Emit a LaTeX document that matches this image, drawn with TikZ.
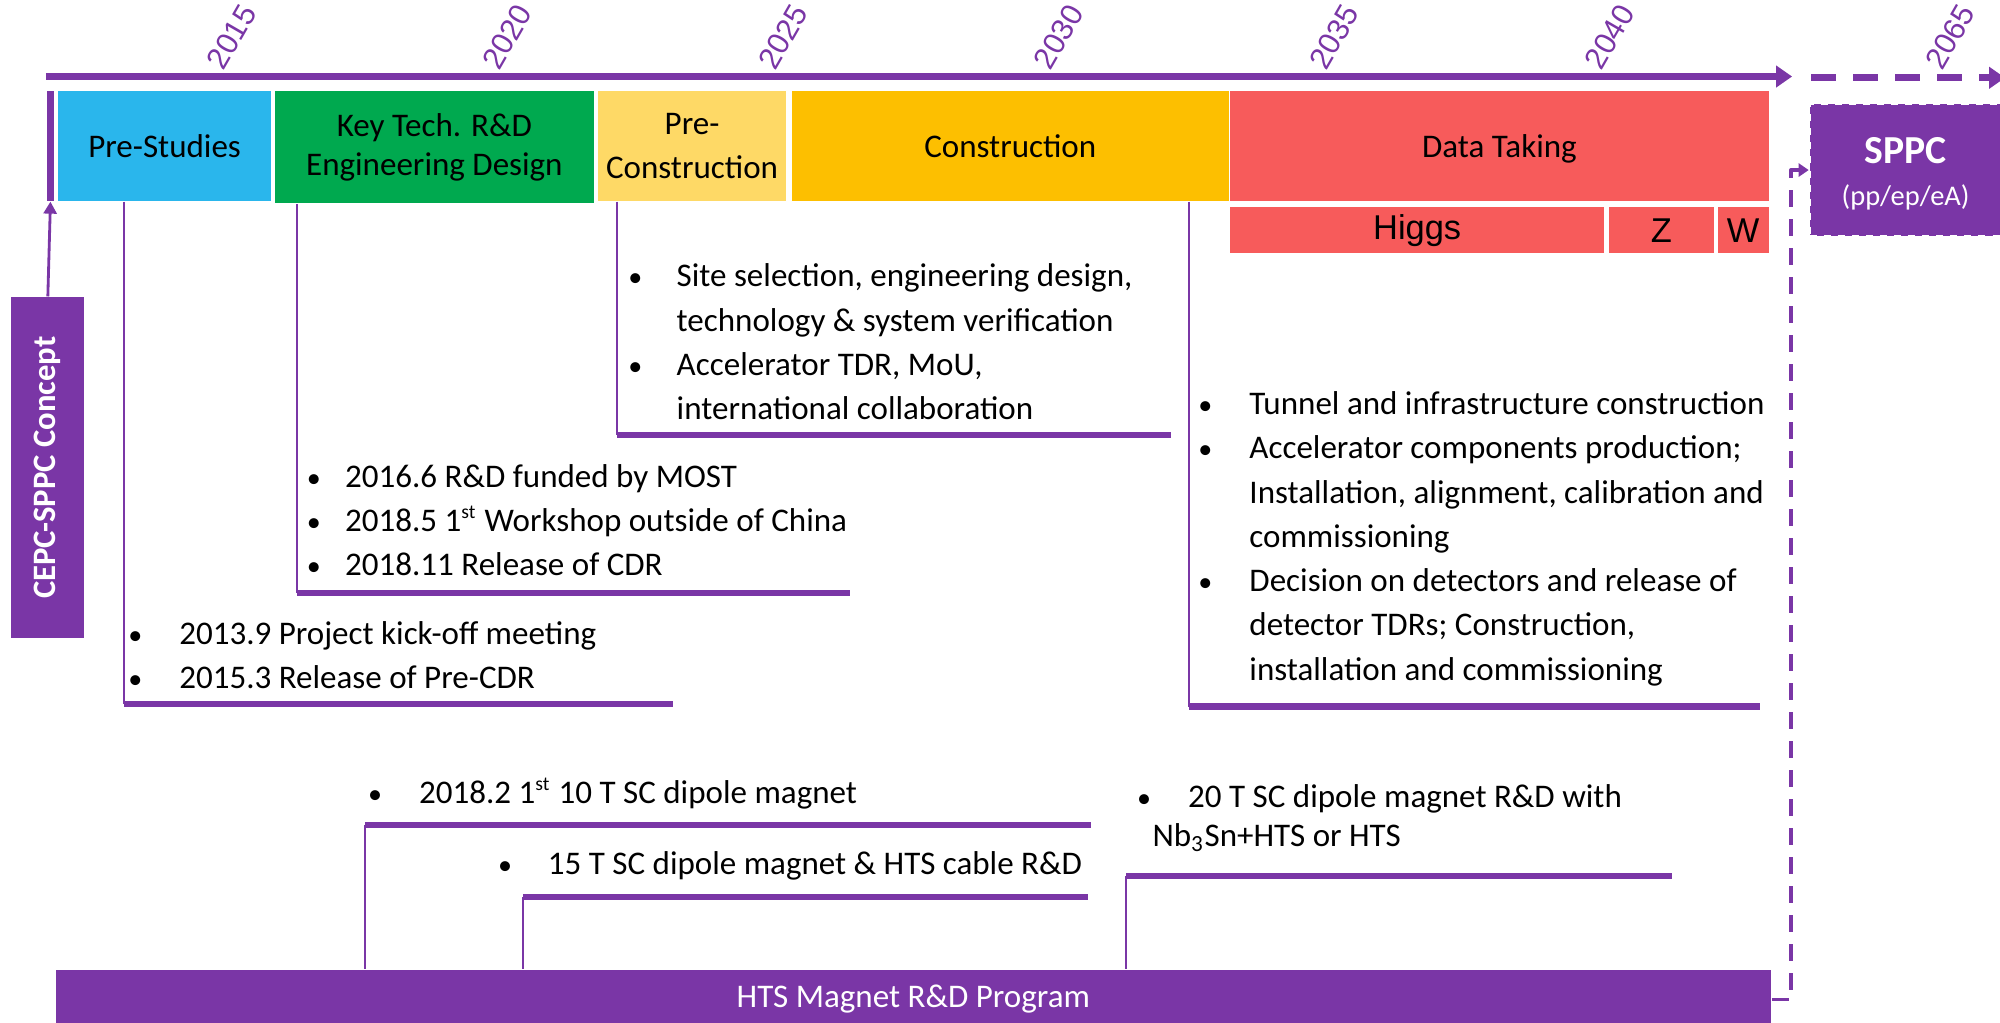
\documentclass[tikz,border=0pt]{standalone}
\usepackage{fontspec}
\setmainfont{Carlito}
\newfontfamily\arialfont{Liberation Sans}
\usetikzlibrary{arrows.meta}
\newlength{\upx}
\setlength{\upx}{0.012755cm}
\newcommand{\itemdot}[1]{\makebox[#1\upx][l]{\scalebox{0.85}{\textbullet}}}
\newcommand{\ordst}{\textsuperscript{\fontsize{5.6}{6}\selectfont st}}
\definecolor{cepcpurple}{HTML}{7A36A6}
\definecolor{studycyan}{HTML}{2AB6EC}
\definecolor{rdgreen}{HTML}{00A94F}
\definecolor{preyellow}{HTML}{FED966}
\definecolor{buildamber}{HTML}{FDBF00}
\definecolor{datared}{HTML}{F75B5B}

\begin{document}
\begin{tikzpicture}[x=0.012755cm, y=-0.012755cm, font=\fontsize{9.4}{12.6}\selectfont, line join=round,
  phase/.style={anchor=north west, inner sep=0pt, minimum height=86\upx, align=center},
  run/.style={anchor=north west, inner sep=0pt, minimum height=36\upx, font=\arialfont\fontsize{9.8}{11}\selectfont},
  year/.style={anchor=south west, inner sep=0pt, rotate=60, text=cepcpurple, font=\arialfont\fontsize{8.7}{10}\selectfont},
  lead/.style={cepcpurple, line width=0.6pt},
  uline/.style={cepcpurple, line width=1.8pt},
  notes/.style={anchor=base west, inner sep=0pt}]

\useasboundingbox (0,0) rectangle (1568,802);

% time axis
\coordinate (ax0) at (36,60);
\coordinate (ax1) at (1405,60);
\coordinate (ax2) at (1420,61);
\coordinate (ax3) at (1572,61);
\draw[cepcpurple, line width=2pt, -{Triangle[length=0.16cm,width=0.21cm]}] (ax0) -- (ax1);
\draw[cepcpurple, line width=2pt, dash pattern=on 0.25cm off 0.17cm, -{Triangle[length=0.16cm,width=0.21cm]}] (ax2) -- (ax3);
\node[year] (y2015) at (176,57) {2015};
\node[year] (y2020) at (392,57) {2020};
\node[year] (y2025) at (608,57) {2025};
\node[year] (y2030) at (824,57) {2030};
\node[year] (y2035) at (1040,57) {2035};
\node[year] (y2040) at (1256,57) {2040};
\node[year] (y2065) at (1523,57) {2065};

% phases
\node[phase, fill=cepcpurple, minimum width=6\upx] (cepcbar) at (36,71) {};
\node[phase, fill=studycyan, minimum width=167\upx, text depth=0pt] (prestudies) at (45,71) {Pre-Studies};
\node[phase, fill=rdgreen, minimum width=250\upx, minimum height=88\upx, font=\fontsize{9.4}{11.3}\selectfont] (keytech) at (215,71) {Key Tech. R\&D\\Engineering Design};
\node[phase, fill=preyellow, minimum width=148\upx] (precon) at (468,71) {Pre-\\Construction};
\node[phase, fill=buildamber, minimum width=343\upx, text depth=0pt] (constr) at (620,71) {Construction};
\node[phase, fill=datared, minimum width=422\upx, text depth=0pt] (datataking) at (964,71) {Data Taking};
\node[run, fill=datared, minimum width=293\upx] (higgs) at (964,162) {Higgs};
\node[run, fill=datared, minimum width=82\upx] (zrun) at (1261,162) {Z};
\node[run, fill=datared, minimum width=40\upx] (wrun) at (1346,162) {W};

% SPPC
\node[anchor=north west, inner sep=0pt, fill=cepcpurple, draw=white, line width=0.6pt, dash pattern=on 2pt off 2pt, minimum width=154\upx, minimum height=103\upx] (sppc) at (1418,81) {};
\node[text=white, font=\bfseries\fontsize{11.3}{13}\selectfont] (sppcname) at (1494,118) {SPPC};
\node[text=white, font=\fontsize{8.1}{10}\selectfont] (sppcsub) at (1494,155) {(pp/ep/eA)};

% concept
\node[rotate=90, fill=cepcpurple, text=white, inner sep=0pt, minimum width=267\upx, minimum height=57\upx, font=\bfseries\fontsize{9.3}{11}\selectfont] (cepc) at (37.5,366.5) {CEPC-SPPC Concept};
\draw[cepcpurple, line width=0.8pt, -{Triangle[length=0.12cm,width=0.13cm]}] (cepc.east) -- (cepcbar.south);

% milestones
\coordinate (u1a) at (97,552);
\coordinate (u1b) at (528,552);
\draw[uline] (u1a) -- (u1b);
\draw[lead] (prestudies.south -| u1a) -- (u1a);
\node[notes] (studynotes) at (100,505) {\begin{tabular}[t]{@{}l@{}}
\itemdot{40}2013.9 Project kick-off meeting\\
\itemdot{40}2015.3 Release of Pre-CDR
\end{tabular}};

\coordinate (u2a) at (233,465);
\coordinate (u2b) at (666,465);
\draw[uline] (u2a) -- (u2b);
\draw[lead] (keytech.south -| u2a) -- (u2a);
\node[notes] (keynotes) at (240,382) {\begin{tabular}[t]{@{}l@{}}
\itemdot{30}2016.6 R\&D funded by MOST\\
\itemdot{30}2018.5 1\ordst{} Workshop outside of China\\
\itemdot{30}2018.11 Release of CDR
\end{tabular}};

\coordinate (u3a) at (484,341);
\coordinate (u3b) at (918,341);
\draw[uline] (u3a) -- (u3b);
\draw[lead] (precon.south -| u3a) -- (u3a);
\node[notes] (prenotes) at (492,225) {\begin{tabular}[t]{@{}l@{}}
\itemdot{38}Site selection, engineering design,\\
\hspace*{38\upx}technology \& system verification\\
\itemdot{38}Accelerator TDR, MoU,\\
\hspace*{38\upx}international collaboration
\end{tabular}};

\coordinate (u4a) at (932,554);
\coordinate (u4b) at (1380,554);
\draw[uline] (u4a) -- (u4b);
\draw[lead] (constr.south -| u4a) -- (u4a);
\node[notes] (buildnotes) at (939,325) {\begin{tabular}[t]{@{}l@{}}
\itemdot{40}Tunnel and infrastructure construction\\
\itemdot{40}Accelerator components production;\\
\hspace*{40\upx}Installation, alignment, calibration and\\
\hspace*{40\upx}commissioning\\
\itemdot{40}Decision on detectors and release of\\
\hspace*{40\upx}detector TDRs; Construction,\\
\hspace*{40\upx}installation and commissioning
\end{tabular}};

% magnet programme
\node[anchor=north west, inner sep=0pt, fill=cepcpurple, text=white, minimum width=1345\upx, minimum height=46\upx] (hts) at (43,760) {HTS Magnet R\&D Program};
\draw[cepcpurple, line width=1pt, dash pattern=on 0.17cm off 0.12cm, -{Triangle[length=0.1cm,width=0.13cm]}] (hts.east) -- ++(15,0) |- (sppc.west);

\coordinate (m1a) at (286,647);
\coordinate (m1b) at (855,647);
\draw[uline] (m1a) -- (m1b);
\draw[lead] (m1a) -- (m1a |- hts.north);
\node[notes] (tennotes) at (288,630) {\itemdot{40}2018.2 1\ordst{} 10 T SC dipole magnet};

\coordinate (m2a) at (410,703);
\coordinate (m2b) at (853,703);
\draw[uline] (m2a) -- (m2b);
\draw[lead] (m2a) -- (m2a |- hts.north);
\node[notes] (fifteennotes) at (390,686) {\itemdot{39}15 T SC dipole magnet \& HTS cable R\&D};

\coordinate (m3a) at (883,687);
\coordinate (m3b) at (1311,687);
\draw[uline] (m3a) -- (m3b);
\draw[lead] (m3a) -- (m3a |- hts.north);
\node[notes] (twentynotes) at (891,633) {\itemdot{40}20 T SC dipole magnet R\&D with};
\node[notes] (twentymore) at (903,664) {Nb\textsubscript{3}Sn+HTS or HTS};
\end{tikzpicture}
\end{document}
